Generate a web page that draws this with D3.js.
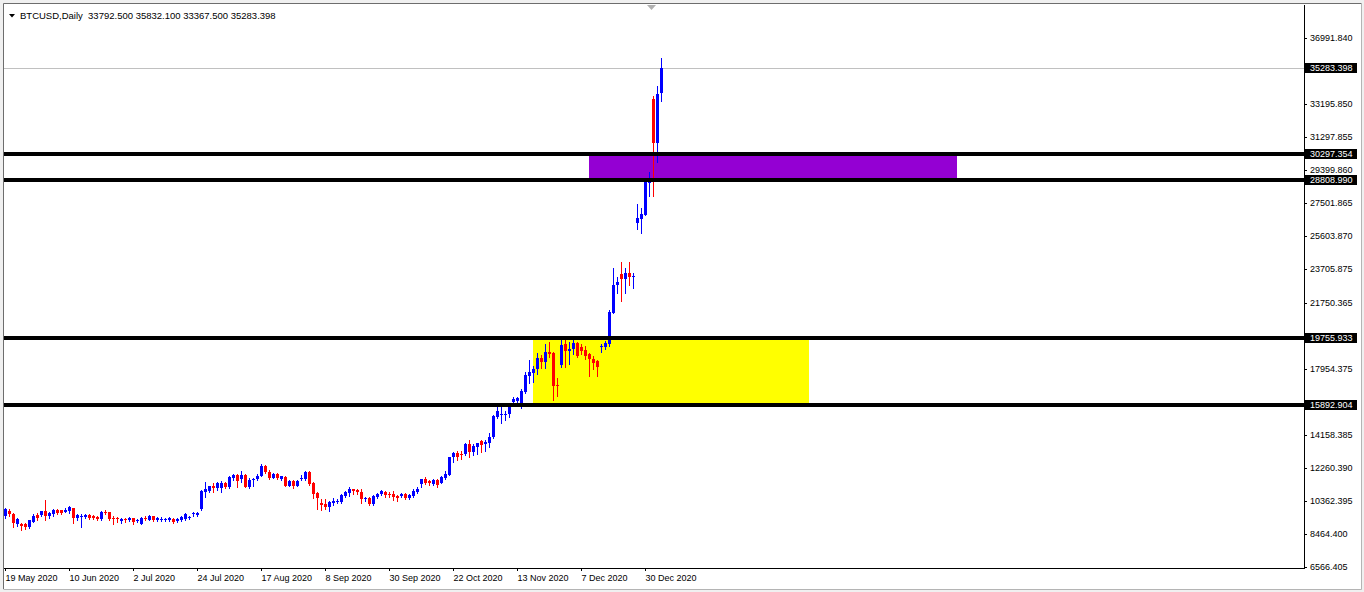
<!DOCTYPE html>
<html><head><meta charset="utf-8">
<script src="https://cdnjs.cloudflare.com/ajax/libs/d3/7.8.5/d3.min.js"></script>
<style>
html,body{margin:0;padding:0;background:#f0f0f0;overflow:hidden}
text{font-family:"Liberation Sans",Arial,sans-serif;font-size:9px}
</style>
</head><body>
<svg id="c" width="1364" height="592"></svg>
<script>
// ---------- DATA ----------
const headerSymbol = "BTCUSD,Daily";
const openP = [9517,9786,9613,9019,9057,9038,8866,9172,9537,9556,9786,9498,9613,9843,9824,9748,9786,9939,9364,9460,
9441,9575,9498,9460,9326,9748,9709,9402,9402,9211,9345,9249,9364,9211,9057,9402,9287,9479,9287,9287,
9268,9266,9323,9208,9266,9323,9381,9611,9553,9901,10897,10936,11204,11089,11089,11396,11166,11664,11856,11626,
11856,11185,11568,11606,11817,12354,12009,11702,11894,11626,11741,11242,11530,11242,11664,11626,12047,11415,10821,10226,
10169,10016,10246,10322,10322,10648,10839,11031,11012,10878,10475,10533,10168,10571,10763,10878,10782,10763,10648,10648,
10763,10533,10648,10897,11318,11625,11491,11338,11568,11414,11664,11874,12871,13121,13063,13044,13657,13197,13485,13811,
13619,13715,14022,15210,15300,15330,15360,16053,16091,15746,16647,17548,17740,17931,18602,18373,18928,18890,17030,18181,
19369,19005,19082,19427,19197,19043,18794,18526,18411,19216,19197,19386,21188,22779,23411,23104,23488,23258,26364,26594,
26824,28625,33456,30964,33792.5];
const highP = [9978,9901,9652,9364,9096,9096,9287,9594,9652,9805,10438,9748,9901,9901,9863,9939,10073,9978,9633,9594,
9613,9633,9556,9517,9786,9863,9748,9479,9460,9364,9383,9422,9402,9326,9441,9517,9530,9517,9422,9441,
9402,9438,9381,9381,9496,9668,9496,9726,9726,10993,11434,11242,11377,11472,11511,11472,11779,11932,11932,12086,
11894,11664,11702,11894,12488,12431,12124,11952,11952,11817,11817,11587,11587,11568,11856,12105,12086,11472,10859,10457,
10476,10361,10514,10456,10763,10954,11146,11069,11069,11031,10609,10571,10705,10801,10993,10935,10878,10916,10724,10820,
10820,10743,11031,11146,11644,11759,11568,11644,11606,11798,12066,12910,13197,13255,13236,13715,13868,13638,13715,13868,
13868,14252,15306,15862,15823,15535,15900,16321,16321,16781,17797,18468,18123,18851,18756,19388,19522,18928,17414,19657,
19657,19522,19657,19503,19388,19273,18851,18698,18468,19388,19580,21341,23737,23258,24101,23737,24101,23449,27437,27188,
28779,29277,33648,34223,35832.1];
const lowP = [9402,9517,8846,8942,8712,8732,8827,9134,9287,9498,9249,9402,9517,9633,9633,9709,9690,9096,9268,8866,
9402,9326,9307,9249,9287,9613,9287,9057,9134,9096,9172,9192,9019,9172,9019,9268,9249,9211,9192,9192,
9192,9208,9093,9151,9208,9266,9323,9496,9496,9843,10610,10897,10859,10993,10897,11089,11127,11549,11185,11434,
11147,11127,11242,11568,11779,11952,11626,11664,11607,11549,11204,11223,11127,11223,11587,11568,11281,10514,9901,9843,
9901,9805,10131,10226,10264,10571,10648,10763,10763,10264,10379,10149,10130,10513,10686,10609,10609,10418,10379,10571,
10494,10475,10590,10839,11146,11338,11261,11280,11184,11376,11606,11836,12622,12718,12795,12986,12910,12986,13063,13197,
13255,13485,13983,15153,14846,15015,15210,15976,16014,15708,16551,17165,17222,17663,17989,17989,18622,16167,16398,18046,
18046,18238,18813,18622,18813,18545,17548,17931,17548,18947,19120,19271,21150,22300,21878,22338,22760,22587,25980,25789,
26785,27897,27897,29871,33367.5];
const closeP = [9901,9633,9077,9307,8923,8846,9249,9517,9402,9786,9517,9652,9863,9690,9690,9863,9997,9364,9556,9517,
9556,9383,9383,9307,9709,9690,9326,9326,9307,9326,9249,9364,9172,9287,9383,9326,9517,9249,9364,9345,
9326,9381,9151,9323,9438,9611,9438,9668,9668,10936,11032,11204,11127,11396,11396,11185,11741,11875,11530,11856,
11185,11587,11645,11817,12373,12009,11702,11913,11664,11779,11242,11530,11242,11511,11702,12047,11357,10763,10552,10131,
9997,10284,10361,10379,10705,10878,11069,10916,10878,10494,10552,10188,10628,10763,10935,10705,10724,10609,10533,10763,
10552,10686,10954,11069,11625,11414,11376,11587,11299,11740,11913,12890,13140,12871,13025,13657,13197,13542,13696,13600,
13772,14041,15268,15536,15360,15380,15770,16206,16263,16704,17605,17797,17931,18602,18373,18928,18832,16992,16992,19331,
19005,19082,19427,18717,19005,18698,18507,18276,18085,19250,19465,21245,22779,22970,23104,23449,23220,23296,26632,26862,
28722,28722,30964,33763,35283.398];

const dateLabels = ["19 May 2020","10 Jun 2020","2 Jul 2020","24 Jul 2020","17 Aug 2020","8 Sep 2020",
                    "30 Sep 2020","22 Oct 2020","13 Nov 2020","7 Dec 2020","30 Dec 2020"];
const dateLabelBars = [0,16,32,48,64,80,96,112,128,144,160];

const priceTicks = [36991.840,33195.850,31297.855,29399.860,27501.865,25603.870,23705.875,
                    21750.365,17954.375,14158.385,12260.390,10362.395,8464.400,6566.405];

const levelPrices = [30297.354, 28808.990, 19755.933, 15892.904];
const zoneStartBar = [132, 146];
const zoneEndBar = [201, 238];
const zoneTop = [19755.933, 30297.354];
const zoneBottom = [15892.904, 28808.990];
const zoneColor = ["#ffff00", "#9400d3"];
const lastPrice = 35283.398;

// ---------- CHART ----------
const plotL = 4, plotR = 1304, plotT = 4, plotB = 568;
const svg = d3.select("#c");

svg.append("rect").attr("x",4).attr("y",4).attr("width",1357).attr("height",585).attr("fill","#fff");
svg.append("path").attr("d","M3.5,589V3.5H1361.5").attr("stroke","#6d6d6d").attr("fill","none");
svg.append("path").attr("d","M3.5,589.5H1361.5V3.5").attr("stroke","#b4b4b4").attr("fill","none");

const nSlots = 325;
const x = d3.scaleBand().domain(d3.range(nSlots)).range([plotL, plotR]);
const y = d3.scaleLinear().domain([6508.5, 38938.5]).range([plotB, plotT]);

const plot = svg.append("g").attr("shape-rendering","crispEdges");

plot.selectAll("rect.zone").data(zoneStartBar).join("rect")
  .attr("x",(d,i)=>x(d)+1)
  .attr("width",(d,i)=>x(zoneEndBar[i])-x(d))
  .attr("y",(d,i)=>y(zoneTop[i]))
  .attr("height",(d,i)=>y(zoneBottom[i])-y(zoneTop[i]))
  .attr("fill",(d,i)=>zoneColor[i]);

plot.append("line").attr("x1",plotL).attr("x2",plotR)
  .attr("y1",Math.round(y(lastPrice))+0.5).attr("y2",Math.round(y(lastPrice))+0.5)
  .attr("stroke","#c0c0c0");

const bars = d3.range(openP.length);
const col = i => closeP[i] >= openP[i] ? "#0000ff" : "#ff0000";
plot.selectAll("rect.wick").data(bars).join("rect")
  .attr("x",i=>x(i)+1).attr("width",1)
  .attr("y",i=>Math.round(y(highP[i])))
  .attr("height",i=>Math.max(1,Math.round(y(lowP[i]))-Math.round(y(highP[i]))+1))
  .attr("fill",col);
plot.selectAll("rect.body").data(bars).join("rect")
  .attr("x",i=>x(i)).attr("width",3)
  .attr("y",i=>Math.round(y(Math.max(openP[i],closeP[i]))))
  .attr("height",i=>Math.max(1,Math.round(y(Math.min(openP[i],closeP[i])))-Math.round(y(Math.max(openP[i],closeP[i])))))
  .attr("fill",col);

plot.selectAll("line.level").data(levelPrices).join("line")
  .attr("x1",plotL).attr("x2",plotR)
  .attr("y1",d=>Math.round(y(d))-0.5).attr("y2",d=>Math.round(y(d))-0.5)
  .attr("stroke","#000").attr("stroke-width",4);

svg.append("polygon").attr("points","647,5 656,5 651.5,10").attr("fill","#b0b0b0");

svg.append("polygon").attr("points","9,14 15,14 12,17.5").attr("fill","#000");
svg.append("text").attr("x",20).attr("y",19)
  .style("white-space","pre").style("font-size","9.5px")
  .text(headerSymbol + "  " + [openP[164],highP[164],lowP[164],closeP[164]].map(d3.format(".3f")).join(" "));

const yAxis = svg.append("g").attr("transform",`translate(${plotR},0)`)
  .call(d3.axisRight(y).tickValues(priceTicks).tickFormat(d3.format(".3f")).tickSize(3).tickPadding(3).tickSizeOuter(0));
yAxis.select(".domain").attr("stroke","#000");
yAxis.selectAll("text").attr("fill","#000").style("font-size","9px").style("font-family",'"Liberation Sans",Arial,sans-serif');
yAxis.attr("shape-rendering","crispEdges");

const boxVals = [lastPrice].concat(levelPrices);
const boxes = svg.append("g");
boxes.selectAll("rect").data(boxVals).join("rect")
  .attr("x",plotR+1).attr("width",52)
  .attr("y",d=>Math.round(y(d))-5).attr("height",10)
  .attr("fill","#000");
boxes.selectAll("text").data(boxVals).join("text")
  .attr("x",plotR+6).attr("y",d=>Math.round(y(d))).attr("dy","0.35em")
  .attr("fill","#fff").text(d3.format(".3f"));

const xAxis = svg.append("g").attr("transform",`translate(0,${plotB})`)
  .call(d3.axisBottom(x).tickValues(dateLabelBars)
    .tickFormat(d=>dateLabels[dateLabelBars.indexOf(d)]).tickSize(3).tickPadding(4).tickSizeOuter(0)
    .offset(0));
xAxis.attr("shape-rendering","crispEdges");
xAxis.select(".domain").attr("stroke","#000");
xAxis.selectAll(".tick").attr("transform",d=>`translate(${x(d)+1.5},0)`);
xAxis.selectAll(".tick line").attr("stroke","#000");
xAxis.selectAll(".tick text").attr("text-anchor","start").attr("x",0)
  .attr("fill","#000").style("font-size","9px").style("font-family",'"Liberation Sans",Arial,sans-serif');
</script>
</body></html>
